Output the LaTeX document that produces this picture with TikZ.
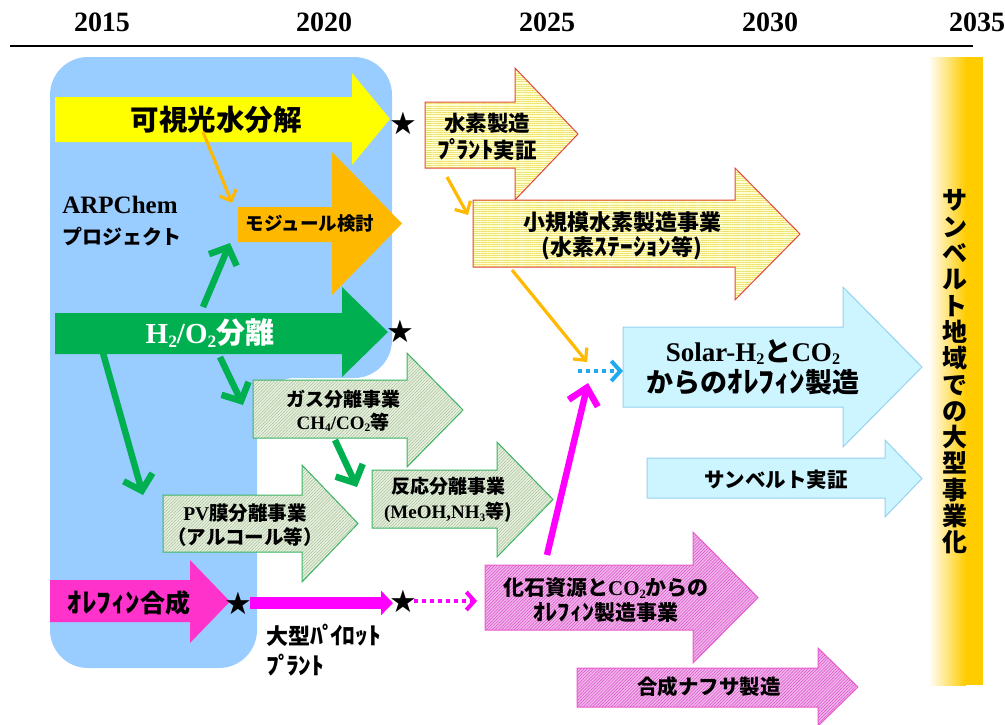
\documentclass[tikz,border=0pt]{standalone}
\usepackage{fontspec}
\usepackage{graphicx}
\setmainfont{Liberation Serif}
\newfontfamily\jp{Noto Sans CJK JP}
\newfontfamily\djv{DejaVu Sans}
\usetikzlibrary{arrows.meta,patterns.meta}
\definecolor{arpblue}{RGB}{153,204,255}
\definecolor{yel}{RGB}{255,255,0}
\definecolor{org}{RGB}{255,184,0}
\definecolor{grn}{RGB}{0,176,80}
\definecolor{mag}{RGB}{255,51,204}
\definecolor{magline}{RGB}{255,0,255}
\definecolor{ornline}{RGB}{255,185,0}
\definecolor{bluedot}{RGB}{30,170,240}
\definecolor{hY}{RGB}{255,255,210}
\definecolor{lY}{RGB}{238,225,110}
\definecolor{bY}{RGB}{225,70,60}
\definecolor{hG}{RGB}{232,240,222}
\definecolor{lG}{RGB}{165,192,155}
\definecolor{bG}{RGB}{60,180,100}
\definecolor{hP}{RGB}{242,180,234}
\definecolor{lP}{RGB}{215,80,200}
\definecolor{bP}{RGB}{235,90,205}
\definecolor{cy}{RGB}{204,245,255}
\definecolor{bC}{RGB}{150,210,240}
\definecolor{gold}{RGB}{255,204,0}
\newcommand\fsz[2]{\fontsize{#1}{#2}\selectfont}
\newcommand\subs[1]{\raisebox{-0.3ex}{\scalebox{0.6}{#1}}}
\newcommand\hw[1]{\scalebox{1.16}[1.08]{#1}}
\newcommand\hdk{ﾟ\kern-0.22em}
\newcommand\blockarr[8]{\path[#1] (#2,#3) -- (#5,#3) -- (#5,#6) -- (#8,{(#6+#7)/2}) -- (#5,#7) -- (#5,#4) -- (#2,#4) -- cycle;}
\begin{document}
\begin{tikzpicture}[x=1pt,y=-1pt,
  yr/.style={font=\rmfamily\bfseries\fsz{28}{30}, inner sep=0},
  jt/.style={font=\jp\bfseries\fsz{#1}{#1}, inner sep=0, align=center},
  jt/.default=20,
  starnode/.style={font=\djv\fsz{31}{31}, inner sep=0},
  yelA/.style={fill=yel},
  orgA/.style={fill=org},
  grnA/.style={fill=grn},
  magA/.style={fill=mag},
  hatY/.style={preaction={fill=hY}, pattern={Lines[angle=0,distance=2.2pt,line width=0.5pt]}, pattern color=lY, draw=bY, line width=1},
  hatG/.style={preaction={fill=hG}, pattern={Lines[angle=45,distance=2.2pt,line width=0.5pt]}, pattern color=lG, draw=bG, line width=1},
  hatP/.style={preaction={fill=hP}, pattern={Lines[angle=45,distance=2.2pt,line width=0.5pt]}, pattern color=lP, draw=bP, line width=1},
  cyA/.style={fill=cy, draw=bC, line width=1},
  oconn/.style={draw=ornline, line width=3.2, -{Straight Barb[length=9pt,width=18pt]}},
  gconn/.style={draw=grn, line width=6.5, -{Straight Barb[length=14pt,width=30pt]}},
  mconn/.style={draw=magline, line width=6.5, -{Straight Barb[length=16pt,width=30pt]}},
]
\useasboundingbox (0,0) rectangle (1005,724);
% timeline
\node[yr] (y15) at (102,22) {2015};
\node[yr] (y20) at (324,22) {2020};
\node[yr] (y25) at (547,22) {2025};
\node[yr] (y30) at (770,22) {2030};
\node[yr] (y35) at (977,22) {2035};
\draw[line width=1.3] (10,46) -- (973,46);
% ARPChem region
\fill[arpblue, rounded corners=38] (50,57) -- (392,57) -- (392,378) -- (257,378) -- (257,668) -- (50,668) -- cycle;
% gold bar
\shade[left color=white, right color=gold] (928,57) rectangle (966,685);
\fill[gold] (965.5,57) rectangle (983,685);
% block arrows
\blockarr{yelA}{55}{97}{142}{352}{73}{165}{390}
\blockarr{orgA}{238}{207}{242}{332}{152}{295}{402}
\blockarr{grnA}{55}{313}{354}{342}{287}{377}{388}
\blockarr{magA}{50}{580}{622}{190}{560}{643}{230}
\blockarr{hatY}{425}{102}{168}{515}{68}{200}{578}
\blockarr{hatY}{473}{200}{267}{735}{168}{300}{800}
\blockarr{hatG}{253}{380}{438}{407}{353}{467}{463}
\blockarr{hatG}{372}{470}{528}{497}{442}{557}{553}
\blockarr{hatG}{163}{495}{552}{302}{465}{582}{358}
\blockarr{cyA}{623}{327}{407}{843}{287}{447}{922}
\blockarr{cyA}{647}{458}{498}{885}{440}{517}{922}
\blockarr{hatP}{485}{565}{630}{693}{532}{663}{758}
\blockarr{hatP}{577}{668}{707}{818}{648}{726}{858}
% texts
\node[jt=28.5] (tvis) at (216,120) {可視光水分解};
\node[font=\rmfamily\bfseries\fsz{25}{25}, inner sep=0] (tarp1) at (120,205) {ARPChem};
\node[jt=20] (tarp2) at (122,237) {プロジェクト};
\node[jt=18.5] (tmod) at (310,224) {モジュール検討};
\node[jt=29, text=white] (th2) at (210,333) {{\rmfamily H\subs{2}/O\subs{2}}分離};
\node[font=\jp\bfseries\fsz{19}{23}, inner sep=0, align=center] (tgas) at (343,411) {ガス分離事業\\{\rmfamily CH\subs{4}/CO\subs{2}}等};
\node[font=\jp\bfseries\fsz{19}{25}, inner sep=0, align=center] (tre) at (448,500) {反応分離事業\\{\rmfamily (MeOH,NH\subs{3}}等)};
\node[font=\jp\bfseries\fsz{19.5}{24}, inner sep=0, align=center] (tpv) at (245,525) {{\rmfamily PV}膜分離事業\\（アルコール等）};
\node[jt=25] (tol) at (129,603) {\hw{ｵﾚﾌｨﾝ}合成};
\node[font=\jp\bfseries\fsz{22}{30}, inner sep=0, align=left, anchor=west] (tpilot) at (266,650) {大型\hw{ﾊ\hdk ｲﾛｯﾄ}\\\hw{ﾌ\hdk ﾗﾝﾄ}};
\node[font=\jp\bfseries\fsz{21.5}{27}, inner sep=0, align=center] (th2p) at (487,137) {水素製造\\\hw{ﾌ\hdk ﾗﾝﾄ}実証};
\node[font=\jp\bfseries\fsz{22}{25}, inner sep=0, align=center] (tsmall) at (622,236) {小規模水素製造事業\\(水素\hw{ｽﾃｰｼｮﾝ}等)};
\node[font=\jp\bfseries\fsz{27}{31}, inner sep=0, align=center] (tsolar) at (753,367) {{\rmfamily Solar-H\subs{2}}と{\rmfamily CO\subs{2}}\\からの\hw{ｵﾚﾌｨﾝ}製造};
\node[jt=20.5] (tsun) at (776,480) {サンベルト実証};
\node[font=\jp\bfseries\fsz{21}{25}, inner sep=0, align=center] (tfos) at (606,600) {化石資源と{\rmfamily CO\subs{2}}からの\\\hw{ｵﾚﾌｨﾝ}製造事業};
\node[jt=20.5] (tnaph) at (709,687) {合成ナフサ製造};
\node[font=\jp\bfseries\fsz{25}{26.3}, inner sep=0, align=center] (tvert) at (955,372) {サ\\ン\\ベ\\ル\\ト\\地\\域\\で\\の\\大\\型\\事\\業\\化};
% stars
\node[starnode] (s1) at (403,123) {★};
\node[starnode] (s2) at (400,331) {★};
\node[starnode] (s3) at (238,603) {★};
\node[starnode] (s4) at (403,601) {★};
% connector end points
\coordinate (o1a) at (203,132); \coordinate (o1b) at (232,203);
\coordinate (o2a) at (447,177); \coordinate (o2b) at (468,215);
\coordinate (o3a) at (512,270); \coordinate (o3b) at (587,362);
\coordinate (g1a) at (203,307); \coordinate (g1b) at (230,243);
\coordinate (g2a) at (103,353); \coordinate (g2b) at (143,495);
\coordinate (g3a) at (220,357); \coordinate (g3b) at (243,405);
\coordinate (g4a) at (335,440); \coordinate (g4b) at (357,487);
\coordinate (m1a) at (547,555); \coordinate (m1b) at (588,383);
\coordinate (pm1) at (250,603); \coordinate (pm2) at (393,603);
\coordinate (pd1) at (414,601); \coordinate (pd2) at (477,601);
\coordinate (bd1) at (578,371); \coordinate (bd2) at (623,371);
% connectors
\draw[oconn] (o1a) -- (o1b);
\draw[oconn] (o2a) -- (o2b);
\draw[oconn] (o3a) -- (o3b);
\draw[gconn] (g1a) -- (g1b);
\draw[gconn] (g2a) -- (g2b);
\draw[gconn] (g3a) -- (g3b);
\draw[gconn] (g4a) -- (g4b);
\draw[mconn] (m1a) -- (m1b);
\draw[draw=magline, line width=12, -{Triangle[length=12pt,width=24pt]}] (pm1) -- (pm2);
\draw[draw=magline, line width=4, dash pattern=on 4pt off 4pt, -{Straight Barb[length=8pt,width=18pt]}] (pd1) -- (pd2);
\draw[draw=bluedot, line width=4, dash pattern=on 4pt off 4pt, -{Straight Barb[length=9pt,width=20pt]}] (bd1) -- (bd2);
\end{tikzpicture}
\end{document}
